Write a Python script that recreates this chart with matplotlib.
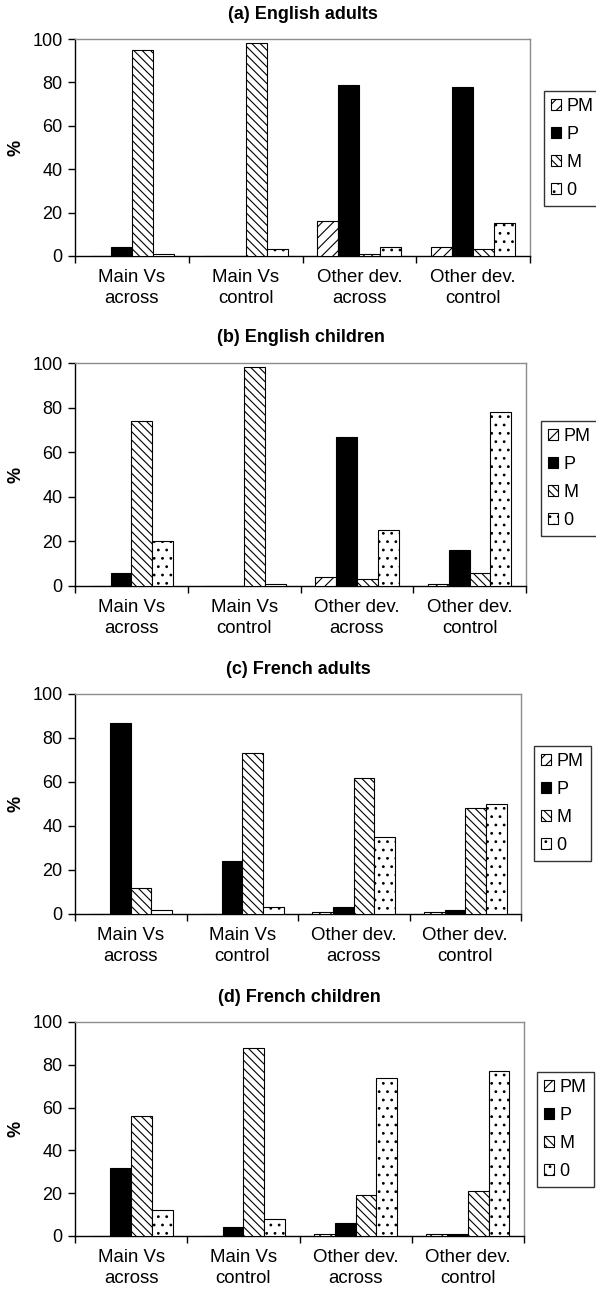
import matplotlib
matplotlib.use("Agg")
import matplotlib.pyplot as plt
from matplotlib.patches import Patch
import numpy as np

plt.rcParams['font.family'] = ['Liberation Sans', 'DejaVu Sans']
plt.rcParams['hatch.linewidth'] = 0.8

categories = ["Main Vs\nacross", "Main Vs\ncontrol", "Other dev.\nacross", "Other dev.\ncontrol"]
series_names = ["PM", "P", "M", "0"]
panel_titles = ["(a) English adults", "(b) English children",
                "(c) French adults", "(d) French children"]
yticks = [0, 20, 40, 60, 80, 100]

# (a) English adults
a_PM = [0, 0, 16, 4]
a_P = [4, 0, 79, 78]
a_M = [95, 98, 1, 3]
a_0 = [1, 3, 4, 15]
# (b) English children
b_PM = [0, 0, 4, 1]
b_P = [6, 0, 67, 16]
b_M = [74, 98, 3, 6]
b_0 = [20, 1, 25, 78]
# (c) French adults
c_PM = [0, 0, 1, 1]
c_P = [87, 24, 3, 2]
c_M = [12, 73, 62, 48]
c_0 = [2, 3, 35, 50]
# (d) French children
d_PM = [0, 0, 1, 1]
d_P = [32, 4, 6, 1]
d_M = [56, 88, 19, 21]
d_0 = [12, 8, 74, 77]

panels = [
    [a_PM, a_P, a_M, a_0],
    [b_PM, b_P, b_M, b_0],
    [c_PM, c_P, c_M, c_0],
    [d_PM, d_P, d_M, d_0],
]

W, H = 596, 1292
fig = plt.figure(figsize=(W / 100, H / 100), dpi=100)

# axes boxes in pixels: left, right, top, bottom
boxes = [(75, 530, 39, 256), (75, 526, 363, 586), (75, 521, 694, 914), (75, 524, 1022, 1236)]
legend_pos = [(544, 91), (541, 421), (534, 746), (537, 1072)]

styles = [
    dict(facecolor='white', hatch='///'),
    dict(facecolor='black', hatch=None),
    dict(facecolor='white', hatch='\\\\\\\\'),
    dict(facecolor='white', hatch='..'),
]

bw = 0.185
offsets = np.array([-1.5, -0.5, 0.5, 1.5]) * bw
centers = np.arange(len(categories)) + 0.5

for pi, (data, (l, r, t, b)) in enumerate(zip(panels, boxes)):
    ax = fig.add_axes([l / W, 1 - b / H, (r - l) / W, (b - t) / H])
    for si, vals in enumerate(data):
        st = styles[si]
        ax.bar(centers + offsets[si], vals, width=bw, facecolor=st['facecolor'],
               edgecolor='black', linewidth=0.8, hatch=st['hatch'], zorder=3)
    ax.set_xlim(0, 4)
    ax.set_ylim(0, 100)
    ax.set_yticks(yticks)
    ax.set_yticklabels([str(v) for v in yticks], fontsize=13)
    ax.set_xticks([0, 1, 2, 3, 4])
    ax.set_xticklabels([])
    ax.set_xticks(centers, minor=True)
    ax.set_xticklabels(categories, minor=True, fontsize=13.4, linespacing=1.35)
    ax.tick_params(axis='x', which='minor', length=0, pad=9)
    ax.tick_params(axis='x', which='major', length=5, width=1, direction='out')
    ax.tick_params(axis='y', length=5, width=1, direction='out', pad=4)
    for s in ['left', 'bottom']:
        ax.spines[s].set_color('black')
        ax.spines[s].set_linewidth(1.0)
    for s in ['top', 'right']:
        ax.spines[s].set_color('#8c8c8c')
        ax.spines[s].set_linewidth(1.0)
    ax.annotate(panel_titles[pi], xy=(0.5, 1), xycoords='axes fraction',
                xytext=(0, 18), textcoords='offset points', ha='center', va='center',
                fontsize=13, fontweight='bold')
    fig.text(16 / W, 1 - ((t + b) / 2) / H, '%', rotation=90, ha='center', va='center',
             fontsize=13, fontweight='bold')

    handles = [Patch(facecolor=st['facecolor'], edgecolor='black', linewidth=0.8,
                     hatch=st['hatch']) for st in styles]
    lx, ly = legend_pos[pi]
    leg = ax.legend(handles, series_names, loc='upper left',
                    bbox_to_anchor=(lx / W, 1 - ly / H), bbox_transform=fig.transFigure,
                    borderaxespad=0, frameon=True, fancybox=False, fontsize=13,
                    handlelength=0.55, handleheight=0.55, handletextpad=0.3,
                    labelspacing=0.6, borderpad=0.4)
    leg.get_frame().set_edgecolor('black')
    leg.get_frame().set_linewidth(1.0)

fig.savefig('out.png', dpi=100)
